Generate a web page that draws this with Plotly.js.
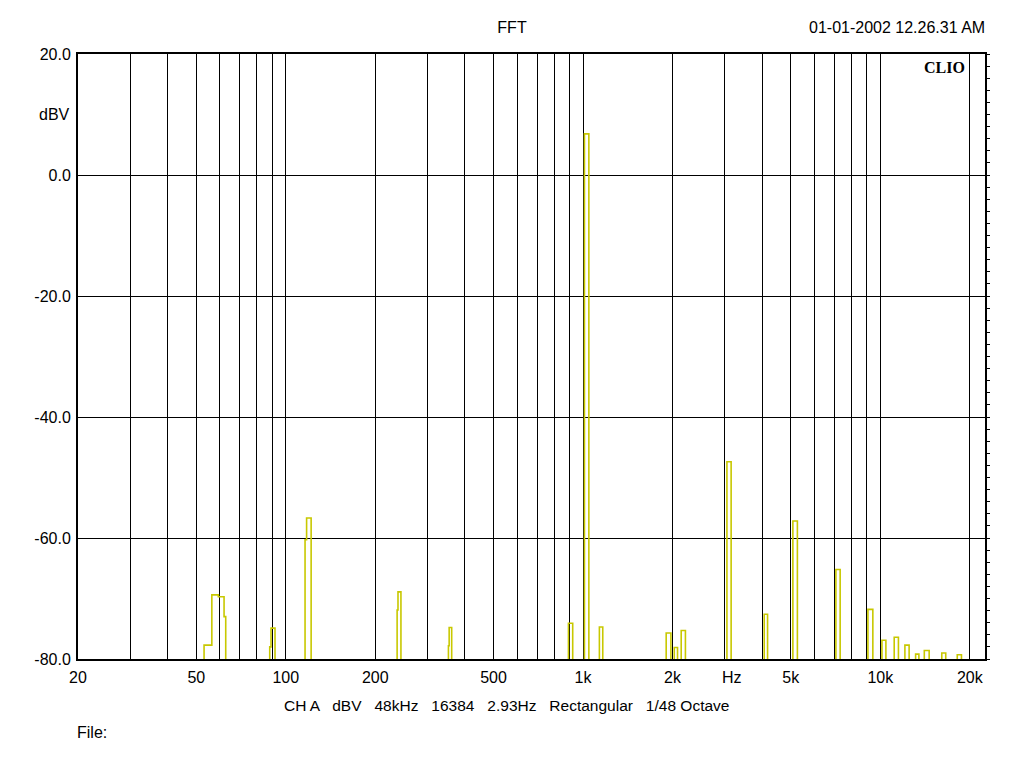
<!DOCTYPE html>
<html>
<head>
<meta charset="utf-8">
<script src="https://cdn.plot.ly/plotly-3.0.1.min.js"></script>
<style>html,body{margin:0;padding:0;background:#fff;}#chart{width:1024px;height:768px;}</style>
</head>
<body>
<div id="chart"></div>
<script>
// Step spectrum (1/48 octave), frequency in Hz and level in dBV; -85 = below the floor
const freqHz = [
  20, 53.1, 56.4, 59.3, 62.0, 62.8,
  88.3, 89.2, 92.0,
  116.1, 117.5, 121.7,
  236.9, 238.5, 244,
  352.5, 354.5, 361.5,
  893, 923,
  1011, 1046,
  1135, 1165,
  1904, 1975,
  2027, 2079,
  2139, 2210,
  3048, 3149,
  4069, 4176,
  5080, 5261,
  7089, 7327,
  9085, 9438,
  10126, 10443,
  11136, 11507,
  12098, 12500,
  13145, 13483,
  14060, 14600,
  16100, 16600,
  18150, 18750,
  22500
];
const levelDbV = [
  -85, -77.7, -69.4, -69.7, -73.0, -85,
  -78.0, -74.9, -85,
  -60.3, -56.7, -85,
  -71.9, -68.9, -85,
  -77.8, -74.8, -85,
  -74.1, -85,
  6.8, -85,
  -74.7, -85,
  -75.7, -85,
  -78.1, -85,
  -75.3, -85,
  -47.4, -85,
  -72.6, -85,
  -57.2, -85,
  -65.2, -85,
  -71.8, -85,
  -76.9, -85,
  -76.4, -85,
  -77.7, -85,
  -79.2, -85,
  -78.6, -85,
  -79.0, -85,
  -79.3, -85,
  -85
];

const gridFreqs = [20,30,40,50,60,70,80,90,100,200,300,400,500,600,700,800,900,
  1000,2000,3000,4000,5000,6000,7000,8000,9000,10000,20000];
const freqLabels = {20:"20",50:"50",100:"100",200:"200",500:"500",1000:"1k",2000:"2k",5000:"5k",10000:"10k",20000:"20k"};
const unitLabel = "Hz";
const unitLabelFreq = 3000;
const levelTicks = [20, 0, -20, -40, -60, -80];
const levelTickText = ["20.0", "0.0", "-20.0", "-40.0", "-60.0", "-80.0"];

const font = {family: "Liberation Sans, Arial, sans-serif", size: 16, color: "#000"};

const traces = [
  {
    x: freqHz, y: levelDbV, type: "scatter", mode: "lines",
    line: {shape: "hv", color: "#c8c800", width: 1.6},
    hoverinfo: "skip", showlegend: false
  },
  {
    x: [null], y: [null], yaxis: "y2", type: "scatter", mode: "lines",
    showlegend: false, hoverinfo: "skip"
  }
];

const layout = {
  width: 1024, height: 768,
  paper_bgcolor: "#fff", plot_bgcolor: "#fff",
  margin: {l: 78, r: 39, t: 54, b: 109},
  font: font,
  showlegend: false,
  title: {text: "FFT", x: 0.5, xanchor: "center", xref: "container", y: 1 - 27/768, yref: "container", yanchor: "middle", font: font},
  xaxis: {
    type: "log",
    range: [Math.log10(20), Math.log10(22500)],
    tickmode: "array",
    tickvals: gridFreqs,
    ticktext: gridFreqs.map(f => freqLabels[f] || ""),
    showgrid: true, gridcolor: "#000", gridwidth: 1,
    showline: true, linecolor: "#000", linewidth: 2, mirror: true,
    ticks: "", ticklabelstandoff: 3,
    zeroline: false, tickfont: font
  },
  yaxis: {
    range: [-80, 20],
    tickmode: "array",
    tickvals: levelTicks,
    ticktext: levelTickText,
    showgrid: true, gridcolor: "#000", gridwidth: 1,
    showline: true, linecolor: "#000", linewidth: 2, mirror: true,
    ticks: "", ticklabelstandoff: 2,
    zeroline: false, tickfont: font
  },
  yaxis2: {
    overlaying: "y", side: "right", range: [-80, 20],
    tickmode: "linear", tick0: -80, dtick: 2,
    ticks: "outside", ticklen: 4, tickwidth: 1, tickcolor: "#000",
    showticklabels: false, showgrid: false, zeroline: false, showline: false
  },
  annotations: [
    {text: unitLabel, xref: "x", yref: "paper", x: Math.log10(unitLabelFreq), y: 0, xanchor: "center", yanchor: "top", xshift: 7, yshift: -8, showarrow: false, font: font},
    {text: "dBV", xref: "paper", yref: "y", x: 0, y: 10, xanchor: "right", yanchor: "middle", xshift: -6, showarrow: false, font: font},
    {text: "01-01-2002 12.26.31 AM", xref: "paper", yref: "paper", x: 1, y: 1 + 27/605, xanchor: "right", yanchor: "middle", xshift: 2, showarrow: false, font: font},
    {text: "<b>CLIO</b>", xref: "paper", yref: "paper", x: 1, y: 1, xanchor: "right", yanchor: "top", xshift: -18, yshift: -3, showarrow: false,
      font: {family: "Liberation Serif, Times New Roman, serif", size: 16, color: "#000"}},
    {text: "CH A   dBV   48kHz   16384   2.93Hz   Rectangular   1/48 Octave", xref: "paper", yref: "paper", x: 0.472, y: -46/605, xanchor: "center", yanchor: "middle", showarrow: false,
      font: {family: "Liberation Sans, Arial, sans-serif", size: 15.5, color: "#000"}},
    {text: "File:", xref: "paper", yref: "paper", x: 0, y: -73/605, xanchor: "left", yanchor: "middle", xshift: -3, showarrow: false, font: font}
  ]
};

Plotly.newPlot("chart", traces, layout, {displayModeBar: false, staticPlot: true});
</script>
</body>
</html>
